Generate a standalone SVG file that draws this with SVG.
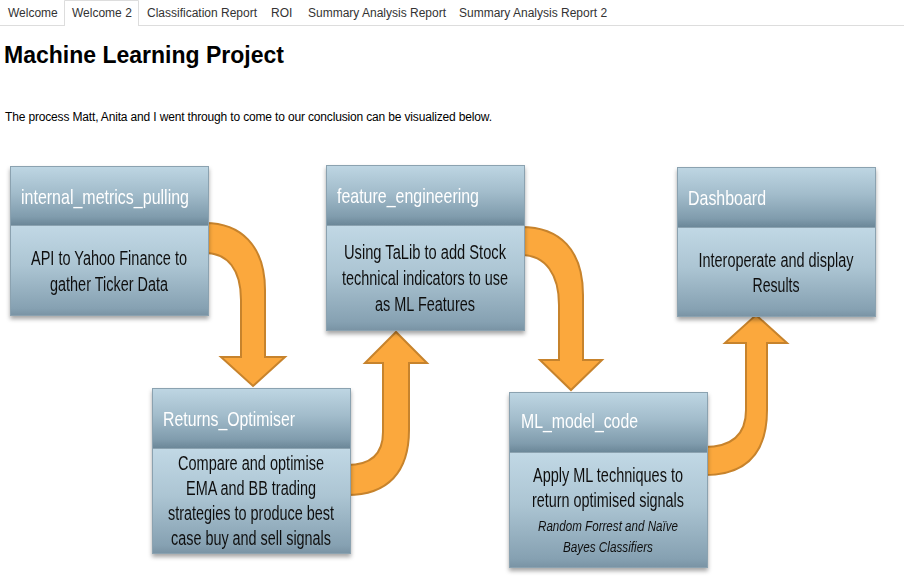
<svg xmlns="http://www.w3.org/2000/svg" width="904" height="580" viewBox="0 0 904 580">
<defs>
<linearGradient id="hdrGrad" x1="0" y1="0" x2="0" y2="1">
<stop offset="0" stop-color="#bed6e3"/>
<stop offset="0.45" stop-color="#a2bccb"/>
<stop offset="0.85" stop-color="#809cad"/>
<stop offset="1" stop-color="#6a8697"/>
</linearGradient>
<linearGradient id="bodyGrad" x1="0" y1="0" x2="0" y2="1">
<stop offset="0" stop-color="#c1d8e5"/>
<stop offset="0.45" stop-color="#acc5d3"/>
<stop offset="0.92" stop-color="#86a1b2"/>
<stop offset="1" stop-color="#7993a4"/>
</linearGradient>
<filter id="shadow" x="-10%" y="-10%" width="120%" height="125%">
<feDropShadow dx="0" dy="3" stdDeviation="2" flood-color="#000" flood-opacity="0.35"/>
</filter>
<style>
.tab{font-family:"Liberation Sans",Arial,sans-serif;font-size:12px;fill:#333}
.title{font-family:"Liberation Sans",Arial,sans-serif;font-size:23px;font-weight:bold;fill:#000}
.sub{font-family:"Liberation Sans",Arial,sans-serif;font-size:12px;fill:#000}
.hdr{fill:url(#hdrGrad);stroke:#8ba2b0;stroke-width:1}
.body{fill:url(#bodyGrad);stroke:#8ba2b0;stroke-width:1}
.ht{font-family:"Liberation Sans Narrow","Liberation Sans",Arial,sans-serif;font-size:21px;fill:#ffffff}
.bt{font-family:"Liberation Sans Narrow","Liberation Sans",Arial,sans-serif;font-size:20px;fill:#111;text-anchor:middle}
.it{font-family:"Liberation Sans Narrow","Liberation Sans",Arial,sans-serif;font-size:15px;font-style:italic;fill:#111;text-anchor:middle}
.arrow{fill:#fba83d;stroke:#c7832c;stroke-width:2;stroke-linejoin:miter}
</style>
</defs>
<rect width="904" height="580" fill="#ffffff"/>
<g id="nav">
<line x1="0" y1="25.5" x2="904" y2="25.5" stroke="#dddddd" stroke-width="1"/>
<path d="M64.5 26 V0.5 H138.5 V26" fill="#ffffff" stroke="#dddddd" stroke-width="1"/>
<text class="tab" x="8" y="17">Welcome</text>
<text class="tab" x="72" y="17">Welcome 2</text>
<text class="tab" x="147" y="17">Classification Report</text>
<text class="tab" x="271" y="17">ROI</text>
<text class="tab" x="308" y="17">Summary Analysis Report</text>
<text class="tab" x="459" y="17">Summary Analysis Report 2</text>
</g>
<text class="title" x="4" y="63">Machine Learning Project</text>
<text class="sub" x="5" y="121" textLength="487">The process Matt, Anita and I went through to come to our conclusion can be visualized below.</text>
<g id="connectors">
<path class="arrow" d="M205 223 C240 223 265 245 265 290 L265 357 L285 357 L253 386 L221 357 L241 357 L241 300 C241 270 228 253 205 253 Z"/>
<path class="arrow" d="M347 495 C388 495 409 472 409 430 L409 363 L427 363 L396 332 L365 363 L383 363 L383 432 C383 453 372 465 347 465 Z"/>
<path class="arrow" d="M521 227 C560 227 583 250 583 295 L583 360 L602 360 L571 390 L540 360 L559 360 L559 305 C559 275 546 255 521 255 Z"/>
<path class="arrow" d="M704 475 C745 475 767 455 767 410 L767 343 L787 343 L756 315 L725 343 L746 343 L746 410 C746 435 732 447 704 447 Z"/>
</g>
<g id="internal_metrics_pulling" filter="url(#shadow)">
<rect class="hdr" x="10.5" y="166.5" width="198" height="59"/>
<rect class="body" x="10.5" y="225.5" width="198" height="90"/>
<text class="ht" x="21" y="204" textLength="168" lengthAdjust="spacingAndGlyphs">internal_metrics_pulling</text>
<text class="bt" x="109" y="265" textLength="156" lengthAdjust="spacingAndGlyphs">API to Yahoo Finance to</text>
<text class="bt" x="109" y="291" textLength="118" lengthAdjust="spacingAndGlyphs">gather Ticker Data</text>
</g>
<g id="Returns_Optimiser" filter="url(#shadow)">
<rect class="hdr" x="152.5" y="388.5" width="198" height="60"/>
<rect class="body" x="152.5" y="448.5" width="198" height="105"/>
<text class="ht" x="163" y="426" textLength="132" lengthAdjust="spacingAndGlyphs">Returns_Optimiser</text>
<text class="bt" x="251" y="470" textLength="146" lengthAdjust="spacingAndGlyphs">Compare and optimise</text>
<text class="bt" x="251" y="495" textLength="130" lengthAdjust="spacingAndGlyphs">EMA and BB trading</text>
<text class="bt" x="251" y="520" textLength="166" lengthAdjust="spacingAndGlyphs">strategies to produce best</text>
<text class="bt" x="251" y="545" textLength="160" lengthAdjust="spacingAndGlyphs">case buy and sell signals</text>
</g>
<g id="feature_engineering" filter="url(#shadow)">
<rect class="hdr" x="326.5" y="165.5" width="198" height="60"/>
<rect class="body" x="326.5" y="225.5" width="198" height="105"/>
<text class="ht" x="337" y="203" textLength="142" lengthAdjust="spacingAndGlyphs">feature_engineering</text>
<text class="bt" x="425" y="259" textLength="162" lengthAdjust="spacingAndGlyphs">Using TaLib to add Stock</text>
<text class="bt" x="425" y="285" textLength="166" lengthAdjust="spacingAndGlyphs">technical indicators to use</text>
<text class="bt" x="425" y="311" textLength="100" lengthAdjust="spacingAndGlyphs">as ML Features</text>
</g>
<g id="ML_model_code" filter="url(#shadow)">
<rect class="hdr" x="509.5" y="392.5" width="198" height="60"/>
<rect class="body" x="509.5" y="452.5" width="198" height="115"/>
<text class="ht" x="521" y="428" textLength="117" lengthAdjust="spacingAndGlyphs">ML_model_code</text>
<text class="bt" x="608" y="482" textLength="150" lengthAdjust="spacingAndGlyphs">Apply ML techniques to</text>
<text class="bt" x="608" y="507" textLength="152" lengthAdjust="spacingAndGlyphs">return optimised signals</text>
<text class="it" x="608" y="531" textLength="140" lengthAdjust="spacingAndGlyphs">Random Forrest and Naïve</text>
<text class="it" x="608" y="552" textLength="90" lengthAdjust="spacingAndGlyphs">Bayes Classifiers</text>
</g>
<g id="Dashboard" filter="url(#shadow)">
<rect class="hdr" x="677.5" y="167.5" width="198" height="60"/>
<rect class="body" x="677.5" y="227.5" width="198" height="89"/>
<text class="ht" x="688" y="205" textLength="78" lengthAdjust="spacingAndGlyphs">Dashboard</text>
<text class="bt" x="776" y="267" textLength="155" lengthAdjust="spacingAndGlyphs">Interoperate and display</text>
<text class="bt" x="776" y="292" textLength="47" lengthAdjust="spacingAndGlyphs">Results</text>
</g>
</svg>
